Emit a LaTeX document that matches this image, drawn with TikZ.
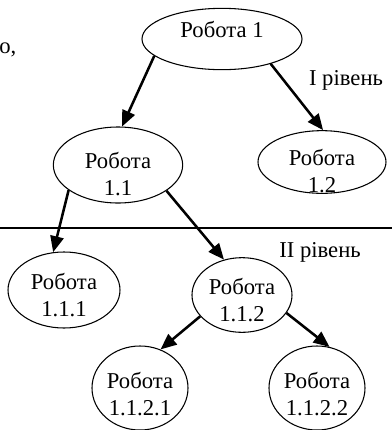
\documentclass[tikz,border=0pt]{standalone}
\usepackage{fontspec}
\setmainfont{Liberation Serif}
\usetikzlibrary{shapes.geometric,arrows.meta}
\begin{document}
\begin{tikzpicture}[x=0.75pt,y=-0.75pt,
  work/.style={draw,ellipse,line width=0.8pt,inner sep=0pt,minimum width=#1},
  txt/.style={align=center,inner sep=0pt,font=\fontsize{17}{20}\selectfont},
  link/.style={line width=1.9pt,-{Triangle[length=12pt,width=10pt]}}]
\useasboundingbox (0,0) rectangle (392,430);

% level separator
\coordinate (sepL) at (0,228);
\coordinate (sepR) at (392,228);
\draw[line width=0.8pt] (sepL) -- (sepR);

% work ellipses
\node[work=120pt,minimum height=46pt] (w1)    at (222,39)  {};
\node[work=96pt,minimum height=47pt]  (w12)   at (322,162) {};
\node[work=97pt,minimum height=57pt]  (w11)   at (118,165) {};
\node[work=84pt,minimum height=57pt]  (w111)  at (64,290)  {};
\node[work=75pt,minimum height=56pt]  (w112)  at (242,295) {};
\node[work=72pt,minimum height=63pt]  (w1121) at (140,388) {};
\node[work=72pt,minimum height=63pt]  (w1122) at (317,388) {};

% labels inside the ellipses
\node[txt] (t1)    at (222,29)  {Робота 1};
\node[txt] (t12)   at (322,171) {Робота\\1.2};
\node[txt] (t11)   at (118,174) {Робота\\1.1};
\node[txt] (t111)  at (64,295)  {Робота\\1.1.1};
\node[txt] (t112)  at (242,300) {Робота\\1.1.2};
\node[txt] (t1121) at (140,394) {Робота\\1.1.2.1};
\node[txt] (t1122) at (317,394) {Робота\\1.1.2.2};

% level captions and text fragment
\node[txt] (lev1) at (346,80)  {I рівень};
\node[txt] (lev2) at (320,252) {II рівень};
\node[txt,anchor=base west] (frag) at (-1,53) {о,};

% hierarchy links
\draw[link] (w1.194)   -- (w11.84);
\draw[link] (w1.333)   -- (w12.88);
\draw[link] (w11.207)  -- (w111.106);
\draw[link] (w11.332)  -- (w112.117);
\draw[link] (w112.207) -- (w1121.62);
\draw[link] (w112.338) -- (w1122.73);
\end{tikzpicture}
\end{document}
